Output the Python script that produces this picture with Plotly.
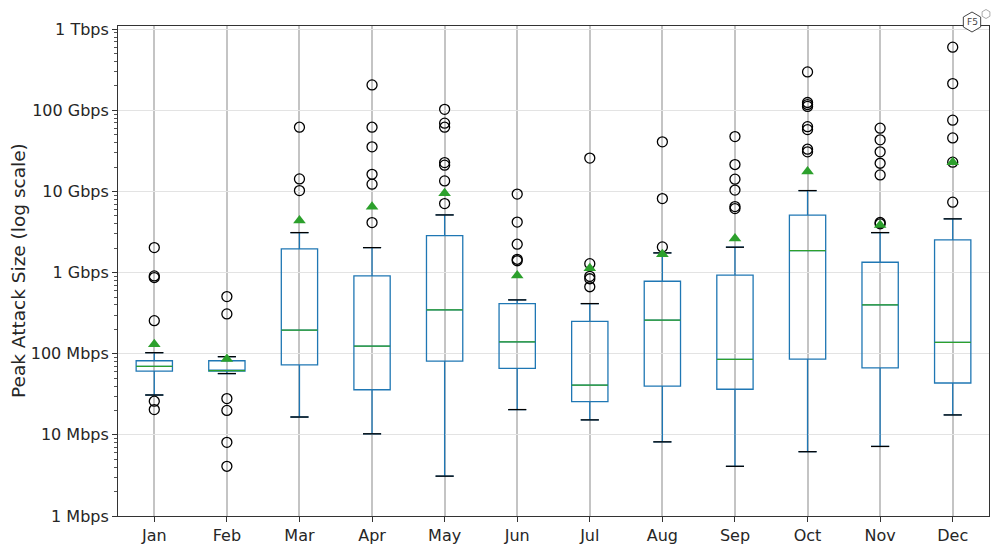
import plotly.graph_objects as go
import math

# Values in Mbps
months = ["Jan", "Feb", "Mar", "Apr", "May", "Jun", "Jul", "Aug", "Sep", "Oct", "Nov", "Dec"]
q1 = [61, 61, 73, 36, 81, 66, 25.7, 40, 36.5, 86, 67, 43.6]
median = [70, 62, 195, 124, 347, 140, 41, 259, 85, 1867, 400, 138]
q3 = [82, 82, 1960, 910, 2860, 415, 251, 783, 929, 5100, 1343, 2530]
whisker_low = [31, 57, 16.6, 10.3, 3.1, 20.5, 15.3, 8.2, 4.1, 6.2, 7.2, 17.6]
whisker_high = [103, 92, 3113, 2033, 5140, 461, 415, 1750, 2057, 10260, 3113, 4600]
means = [131, 86, 4400, 6500, 9500, 920, 1130, 1690, 2625, 17600, 3870, 23000]
outliers = [
    [2034, 910, 870, 256, 26, 20.5],
    [506, 310, 28, 20, 8.1, 4.1],
    [62000, 14300, 10260],
    [206000, 62000, 35500, 16300, 12300, 4140],
    [103000, 69500, 62000, 22700, 21100, 13500, 7100],
    [9300, 4200, 2240, 1460, 1400],
    [25800, 1290, 900, 840, 670],
    [40900, 8180, 2075],
    [47500, 21500, 14200, 10400, 6510, 6150],
    [298000, 125000, 118000, 112000, 63000, 58000, 33200, 30800],
    [60300, 43300, 30800, 22300, 16000, 4150, 4000],
    [601000, 214000, 75700, 45800, 23000, 7380],
]
tick_vals = [1, 10, 100, 1000, 10000, 100000, 1000000]
tick_text = ["1 Mbps", "10 Mbps", "100 Mbps", "1 Gbps", "10 Gbps", "100 Gbps", "1 Tbps"]

positions = list(range(1, len(months) + 1))
BOX_W = 0.5
CAP_W = 0.25
BLUE = "#1f77b4"
GREEN = "#2ca02c"

fig = go.Figure()

fig.add_trace(go.Box(
    x=positions, q1=q1, median=median, q3=q3,
    lowerfence=whisker_low, upperfence=whisker_high,
    width=BOX_W, whiskerwidth=CAP_W / BOX_W,
    line=dict(color=BLUE, width=1.3), fillcolor="rgba(0,0,0,0)",
    boxpoints=False, showlegend=False, hoverinfo="skip",
))

# caps (black)
cx, cy = [], []
for p, lo, hi in zip(positions, whisker_low, whisker_high):
    cx += [p - CAP_W / 2, p + CAP_W / 2, None, p - CAP_W / 2, p + CAP_W / 2, None]
    cy += [lo, lo, None, hi, hi, None]
fig.add_trace(go.Scatter(x=cx, y=cy, mode="lines", line=dict(color="black", width=1.3),
                         showlegend=False, hoverinfo="skip"))

# medians (green)
mx, my = [], []
for p, m in zip(positions, median):
    mx += [p - BOX_W / 2, p + BOX_W / 2, None]
    my += [m, m, None]
fig.add_trace(go.Scatter(x=mx, y=my, mode="lines", line=dict(color=GREEN, width=1.3),
                         showlegend=False, hoverinfo="skip"))

# outliers
ox, oy = [], []
for p, vals in zip(positions, outliers):
    ox += [p] * len(vals)
    oy += vals
fig.add_trace(go.Scatter(x=ox, y=oy, mode="markers",
                         marker=dict(symbol="circle-open", size=10, color="black",
                                     line=dict(color="black", width=1.3)),
                         showlegend=False))

# means
fig.add_trace(go.Scatter(x=positions, y=means, mode="markers",
                         marker=dict(symbol="triangle-up", size=11, color=GREEN),
                         showlegend=False))

# figure is drawn 8px from the page's top-left corner
OFF = 8
L, R, T, B = 118 - OFF, 989 - OFF, 26 - OFF, 516 - OFF
W, H = 1000 - OFF, 552 - OFF


def px_to_paper(px, py):
    return ((px - OFF) - L) / (R - L), (B - (py - OFF)) / (B - T)


def hexagon(r):
    pts = [(r * math.cos(math.radians(a + 30)), r * math.sin(math.radians(a + 30))) for a in range(0, 360, 60)]
    return "M " + " L ".join(f"{x:.2f},{y:.2f}" for x, y in pts) + " Z"


hx, hy = px_to_paper(972, 22)
sx, sy = px_to_paper(986, 14)
fig.add_shape(type="path", xref="paper", yref="paper", xsizemode="pixel", ysizemode="pixel",
              xanchor=hx, yanchor=hy, path=hexagon(10),
              line=dict(color="#444", width=1), fillcolor="white", layer="above")
fig.add_shape(type="path", xref="paper", yref="paper", xsizemode="pixel", ysizemode="pixel",
              xanchor=sx, yanchor=sy, path=hexagon(4.5),
              line=dict(color="#aaa", width=1), fillcolor="white", layer="above")
fig.add_annotation(x=hx, y=hy, xref="paper", yref="paper", xanchor="center", yanchor="middle",
                   text="F5", showarrow=False, font=dict(size=9, color="#444", family="DejaVu Sans"))

# y-axis title placed as a rotated annotation
tx, ty = px_to_paper(18, 271)
fig.add_annotation(x=tx, y=ty, xref="paper", yref="paper", xanchor="center", yanchor="middle",
                   text="Peak Attack Size (log scale)", textangle=-90, showarrow=False,
                   font=dict(size=18.5, color="#262626", family="DejaVu Sans"))

fig.update_layout(
    width=W, height=H,
    margin=dict(l=L, r=W - R, t=T, b=H - B),
    paper_bgcolor="white", plot_bgcolor="white",
    font=dict(family="DejaVu Sans", size=16, color="#262626"),
    showlegend=False,
)
fig.update_xaxes(
    range=[0.5, 12.5], tickmode="array", tickvals=positions, ticktext=months,
    showgrid=True, gridcolor="#c4c4c4", gridwidth=1.6,
    showline=True, mirror=True, linecolor="#333", linewidth=1,
    ticks="outside", ticklen=5, tickcolor="#333", zeroline=False,
    tickfont=dict(size=16), automargin=False,
)
fig.update_yaxes(
    type="log", range=[0, 6.04], tickmode="array", tickvals=tick_vals, ticktext=tick_text,
    showgrid=True, gridcolor="#e3e3e3", gridwidth=1,
    showline=True, mirror=True, linecolor="#333", linewidth=1,
    ticks="outside", ticklen=5, tickcolor="#333", zeroline=False,
    minor=dict(ticks="outside", ticklen=3, tickcolor="#555", dtick="D1", showgrid=False),
    tickfont=dict(size=16), automargin=False,
)

fig.write_html("out.html")
